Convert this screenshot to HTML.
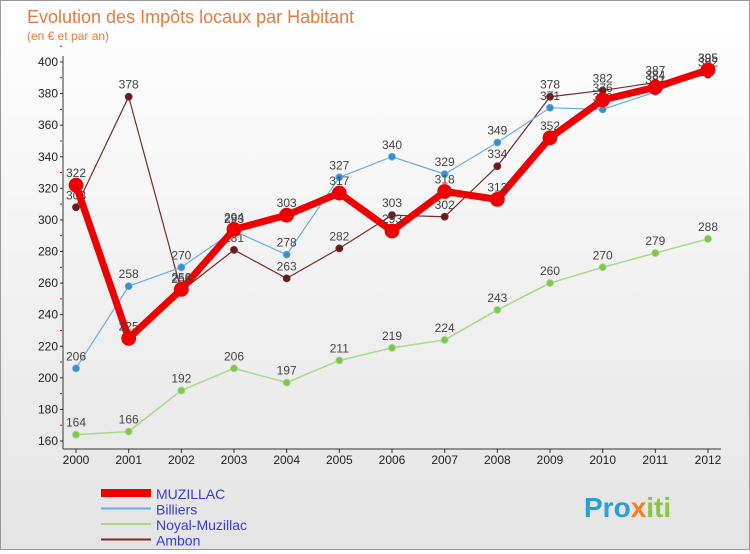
<!DOCTYPE html>
<html><head><meta charset="utf-8"><style>
body{margin:0;background:#fff;font-family:"Liberation Sans",sans-serif}
#c{position:relative;width:748px;height:548px;border:1px solid #999;background:linear-gradient(#fff,#e4e4e4)}
</style></head><body>
<div id="c">
<svg id="s" width="748" height="548" xmlns="http://www.w3.org/2000/svg">
<text x="26" y="22" font-size="18" fill="#e87a3c">Evolution des Impôts locaux par Habitant</text>
<text x="26" y="39" font-size="12" fill="#e87a3c">(en € et par an)</text>
<g id="g"></g>
<text x="583" y="516" font-size="28" font-weight="bold" fill="#2a9fd6">Pro<tspan fill="#f08020">x</tspan><tspan fill="#8cc63f">iti</tspan></text>
</svg>
</div>
<script>
const years=[2000,2001,2002,2003,2004,2005,2006,2007,2008,2009,2010,2011,2012];
const yTicks=[160,180,200,220,240,260,280,300,320,340,360,380,400];
const muzillac=[322,225,256,294,303,317,293,318,313,352,376,384,395];
const billiers=[206,258,270,293,278,327,340,329,349,371,370,381,395];
const noyal=[164,166,192,206,197,211,219,224,243,260,270,279,288];
const ambon=[308,378,255,281,263,282,303,302,334,378,382,387,392];
const seriesNames=["MUZILLAC","Billiers","Noyal-Muzillac","Ambon"];
const NS="http://www.w3.org/2000/svg";
const g=document.getElementById('g');
const X=i=>75+i*(707-75)/(years.length-1);
const Y=v=>440-(v-160)*(440-61)/240;
function mk(t,a,p){const e=document.createElementNS(NS,t);for(const k in a)e.setAttribute(k,a[k]);(p||g).appendChild(e);return e;}
// axes
let ax=mk('line',{x1:62,y1:55,x2:62,y2:448,stroke:'#333'});

let bx=mk('line',{x1:62,y1:448,x2:720,y2:448,stroke:'#333'});

yTicks.forEach(v=>{const t=mk('text',{x:57,y:Y(v)+4,'font-size':12,'text-anchor':'end',fill:'#222'});t.textContent=v;

mk('line',{x1:59,y1:Y(v),x2:62,y2:Y(v),stroke:'#333'});
mk('line',{x1:59,y1:Y(v+10),x2:61,y2:Y(v+10),stroke:'#e00'});});
years.forEach((y,i)=>{const t=mk('text',{x:X(i),y:463,'font-size':12,'text-anchor':'middle',fill:'#222'});t.textContent=y;

mk('line',{x1:X(i),y1:448,x2:X(i),y2:452,stroke:'#333'});});
function series(d,col,w,r,name,dot){
 const pl=mk('polyline',{points:d.map((v,i)=>X(i)+','+Y(v)).join(' '),fill:'none',stroke:col,'stroke-width':w,'stroke-linejoin':'round'});
 
 d.forEach((v,i)=>{const c=mk('circle',{cx:X(i),cy:Y(v),r:r,fill:dot,stroke:col,'stroke-width':0.8});
 
 const t=mk('text',{x:X(i),y:Y(v)-8,'font-size':12,'text-anchor':'middle',fill:'#444'});t.textContent=v;
 });
}
series(noyal,'#a8d88a',1.5,3.5,'noyal-muzillac','#7cc84a');
series(ambon,'#7a2a2a',1.2,3.5,'ambon','#6a1a1a');
series(billiers,'#6aaee0',1.2,3.5,'billiers','#3a8fd0');
series(muzillac,'#ee0000',7,7,'muzillac','#ee0000');
const lc=['#ee0000','#6aaee0','#a8d88a','#7a2a2a'],lw=[8,2,2,2];
seriesNames.forEach((n,i)=>{const y=492+i*15.5;
 const l=mk('line',{x1:100,y1:y,x2:150,y2:y,stroke:lc[i],'stroke-width':lw[i]});
 
 const t=mk('text',{x:155,y:y+6,'font-size':14,fill:'#3a3ae0'});t.textContent=n;
 });
</script>
</body></html>
